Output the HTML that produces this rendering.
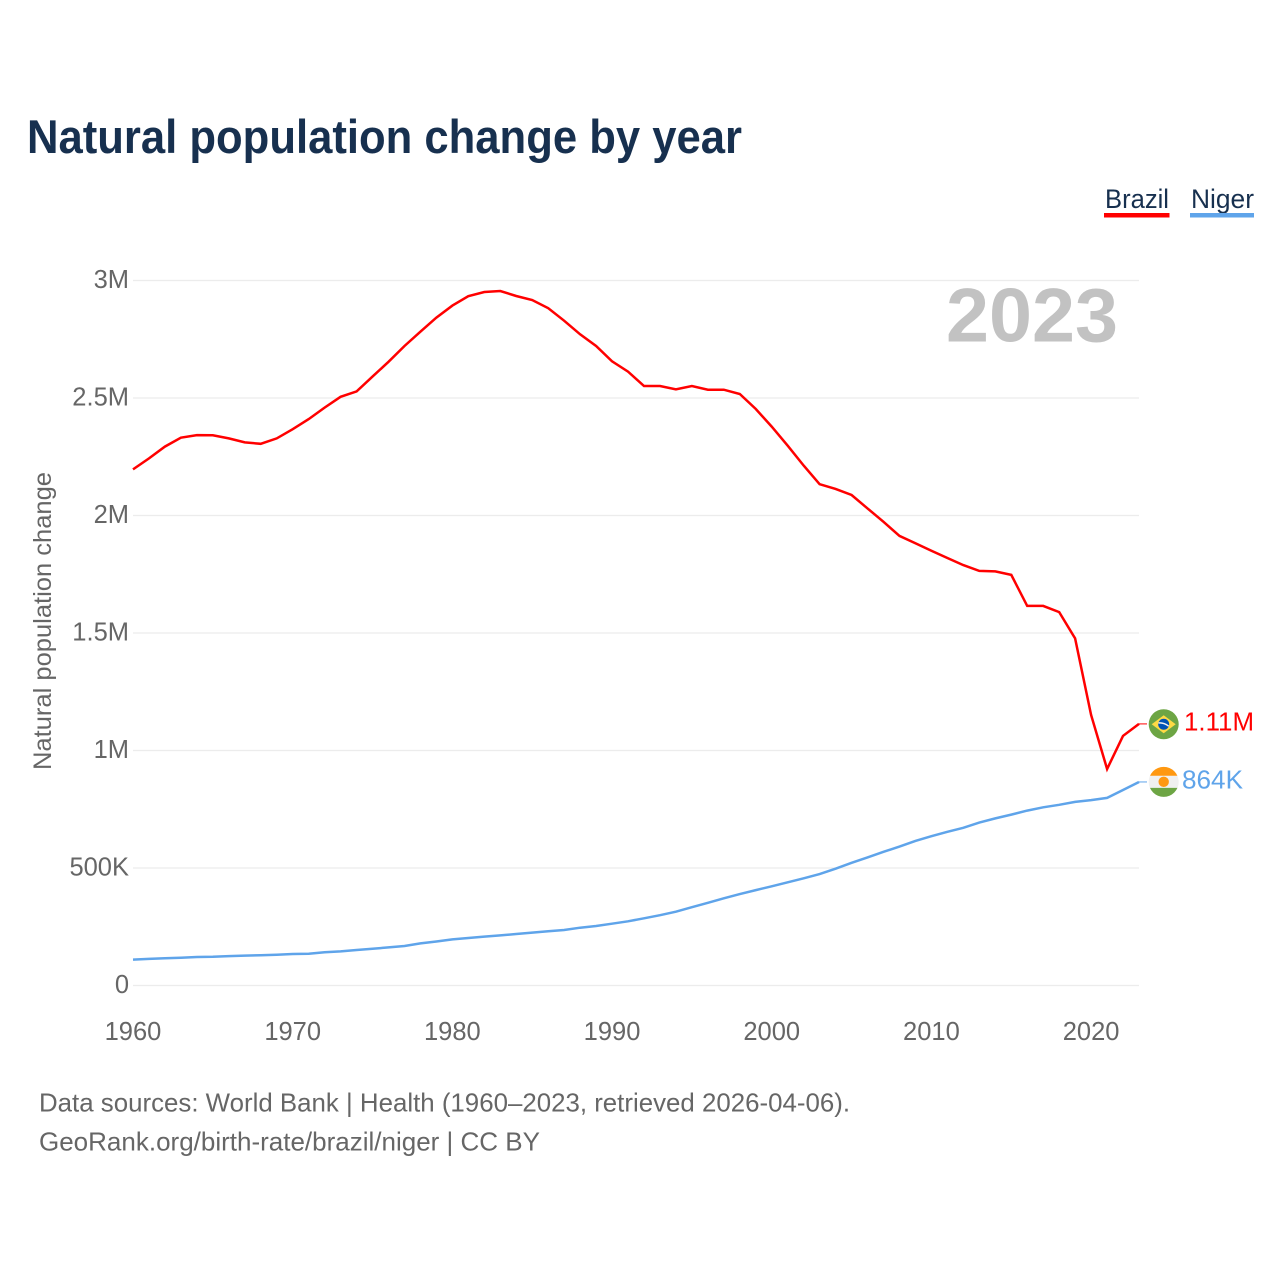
<!DOCTYPE html>
<html lang="en">
<head>
<meta charset="utf-8">
<title>Natural population change by year</title>
<style>
html,body{margin:0;padding:0;background:#fff;}
svg{display:block;font-family:"Liberation Sans",sans-serif;}
</style>
</head>
<body>
<svg id="chart" xmlns="http://www.w3.org/2000/svg" width="1280" height="1280" viewBox="0 0 1280 1280">
  <defs>
    <clipPath id="flag-clip"><circle cx="0" cy="0" r="15"/></clipPath>
  </defs>
  <rect x="0" y="0" width="1280" height="1280" fill="#fff"/>
  <text x="27" y="153" font-size="47" font-weight="700" fill="#17304f" textLength="715" lengthAdjust="spacingAndGlyphs">Natural population change by year</text>

  <g>
    <g>
      <text x="1105" y="208" font-size="26.5" fill="#17304f" textLength="64" lengthAdjust="spacingAndGlyphs">Brazil</text>
      <rect x="1104" y="213" width="65.5" height="4.5" fill="#ff0000"/>
    </g>
    <g>
      <text x="1191" y="208" font-size="26.5" fill="#17304f" textLength="63" lengthAdjust="spacingAndGlyphs">Niger</text>
      <rect x="1190" y="213" width="64" height="4.5" fill="#5fa4ea"/>
    </g>
  </g>

  <g id="grid"></g>
  <g id="y-ticks"></g>
  <g id="x-ticks"></g>

  <text transform="translate(51,770) rotate(-90)" font-size="25" fill="#666666" textLength="298" lengthAdjust="spacingAndGlyphs">Natural population change</text>
  <text x="946" y="341.5" font-size="76" font-weight="700" fill="#c2c2c2" textLength="172" lengthAdjust="spacingAndGlyphs">2023</text>

  <g id="series"></g>

  <g id="flag-brazil">
    <g clip-path="url(#flag-clip)">
      <rect x="-16" y="-16" width="32" height="32" fill="#6da544"/>
      <polygon points="0,-9 12,0 0,9 -12,0" fill="#ffda44"/>
      <circle cx="0" cy="0" r="5.5" fill="#0052b4"/>
      <path d="M-5.2,-1.2 Q0,-1.8 5,2" stroke="#f0f0f0" stroke-width="1.5" fill="none"/>
    </g>
  </g>
  <g id="flag-niger">
    <g clip-path="url(#flag-clip)">
      <rect x="-16" y="-16" width="32" height="10" fill="#ff9811"/>
      <rect x="-16" y="-6" width="32" height="12" fill="#f0f0f0"/>
      <rect x="-16" y="6" width="32" height="10" fill="#6da544"/>
      <circle cx="0" cy="0" r="5.2" fill="#ff9811"/>
    </g>
  </g>

  <text x="39" y="1111.5" font-size="26" fill="#666666" textLength="811" lengthAdjust="spacingAndGlyphs">Data sources: World Bank | Health (1960–2023, retrieved 2026-04-06).</text>
  <text x="39" y="1150.5" font-size="26" fill="#666666" textLength="501" lengthAdjust="spacingAndGlyphs">GeoRank.org/birth-rate/brazil/niger | CC BY</text>
</svg>
<script>
const years = [1960,1961,1962,1963,1964,1965,1966,1967,1968,1969,1970,1971,1972,1973,1974,1975,1976,1977,1978,1979,1980,1981,1982,1983,1984,1985,1986,1987,1988,1989,1990,1991,1992,1993,1994,1995,1996,1997,1998,1999,2000,2001,2002,2003,2004,2005,2006,2007,2008,2009,2010,2011,2012,2013,2014,2015,2016,2017,2018,2019,2020,2021,2022,2023];
const brazilValues = [2194,2241,2291,2329,2340,2339,2326,2309,2303,2326,2365,2408,2457,2503,2526,2589,2652,2719,2780,2840,2891,2931,2949,2953,2932,2915,2880,2827,2769,2719,2654,2610,2549,2549,2535,2549,2533,2533,2515,2451,2376,2295,2210,2131,2111,2085,2028,1971,1911,1880,1848,1817,1787,1762,1760,1745,1613,1613,1587,1475,1149,919,1060,1111];
const nigerValues = [108,111,114,116,119,120,123,125,127,129,132,133,139,143,149,154,160,166,177,185,194,200,206,211,217,223,229,234,244,251,261,271,284,297,312,331,350,369,387,404,420,437,454,472,495,520,543,567,589,613,633,652,669,691,709,725,742,756,767,779,787,796,830,864];
const yTickValues = [0,500,1000,1500,2000,2500,3000];
const yTickLabels = ['0','500K','1M','1.5M','2M','2.5M','3M'];
const xTickValues = [1960,1970,1980,1990,2000,2010,2020];
const xTickLabels = ['1960','1970','1980','1990','2000','2010','2020'];

const NS = 'http://www.w3.org/2000/svg';
const xLeft = 133, xRight = 1139, yZero = 985, yTop = 280;
function xScale(year){ return xLeft + (year - 1960) * (xRight - xLeft) / (2023 - 1960); }
function yScale(value){ return yZero - value * (yZero - yTop) / 3000; }
function formatValue(value){ return value >= 1000 ? (value / 1000).toFixed(2) + 'M' : Math.round(value) + 'K'; }

const grid = document.getElementById('grid');
const yTicks = document.getElementById('y-ticks');
const xTicks = document.getElementById('x-ticks');
const seriesGroup = document.getElementById('series');
const svg = document.getElementById('chart');

yTickValues.forEach(function(value, i){
  const line = document.createElementNS(NS, 'line');
  
  
  line.setAttribute('x1', xLeft);
  line.setAttribute('x2', xRight);
  line.setAttribute('y1', yScale(value) + 0.5);
  line.setAttribute('y2', yScale(value) + 0.5);
  line.setAttribute('stroke', '#ececec');
  line.setAttribute('stroke-width', '1.2');
  grid.appendChild(line);

  const label = document.createElementNS(NS, 'text');
  
  
  label.setAttribute('x', 129);
  label.setAttribute('y', yScale(value) + 8);
  label.setAttribute('text-anchor', 'end');
  label.setAttribute('font-size', '25.5');
  label.setAttribute('fill', '#666666');
  label.textContent = yTickLabels[i];
  yTicks.appendChild(label);
});

xTickValues.forEach(function(year, i){
  const label = document.createElementNS(NS, 'text');
  
  
  label.setAttribute('x', xScale(year));
  label.setAttribute('y', 1040);
  label.setAttribute('text-anchor', 'middle');
  label.setAttribute('font-size', '25.5');
  label.setAttribute('fill', '#666666');
  label.textContent = xTickLabels[i];
  xTicks.appendChild(label);
});

function pointsFor(values){
  return values.map(function(v, i){ return xScale(years[i]).toFixed(1) + ',' + yScale(v).toFixed(1); }).join(' ');
}

const brazilLine = document.createElementNS(NS, 'polyline');


brazilLine.setAttribute('points', pointsFor(brazilValues));
brazilLine.setAttribute('fill', 'none');
brazilLine.setAttribute('stroke', '#ff0000');
brazilLine.setAttribute('stroke-width', '2.5');
brazilLine.setAttribute('stroke-linejoin', 'miter');
seriesGroup.appendChild(brazilLine);

const nigerLine = document.createElementNS(NS, 'polyline');


nigerLine.setAttribute('points', pointsFor(nigerValues));
nigerLine.setAttribute('fill', 'none');
nigerLine.setAttribute('stroke', '#5fa4ea');
nigerLine.setAttribute('stroke-width', '2.5');
seriesGroup.appendChild(nigerLine);

const brazilEnd = yScale(brazilValues[brazilValues.length - 1]);
const nigerEnd = yScale(nigerValues[nigerValues.length - 1]);

const brazilConnector = document.createElementNS(NS, 'line');


brazilConnector.setAttribute('x1', xRight);
brazilConnector.setAttribute('x2', 1147);
brazilConnector.setAttribute('y1', brazilEnd);
brazilConnector.setAttribute('y2', brazilEnd);
brazilConnector.setAttribute('stroke', '#ff0000');
brazilConnector.setAttribute('stroke-width', '1');
seriesGroup.appendChild(brazilConnector);

const nigerConnector = document.createElementNS(NS, 'line');


nigerConnector.setAttribute('x1', xRight);
nigerConnector.setAttribute('x2', 1147);
nigerConnector.setAttribute('y1', nigerEnd);
nigerConnector.setAttribute('y2', nigerEnd);
nigerConnector.setAttribute('stroke', '#5fa4ea');
nigerConnector.setAttribute('stroke-width', '1');
seriesGroup.appendChild(nigerConnector);

document.getElementById('flag-brazil').setAttribute('transform', 'translate(1163.7,' + (brazilEnd + 0.3) + ')');
document.getElementById('flag-niger').setAttribute('transform', 'translate(1163.7,' + (nigerEnd - 0.1) + ')');

const brazilLabel = document.createElementNS(NS, 'text');


brazilLabel.setAttribute('x', 1184);
brazilLabel.setAttribute('y', brazilEnd + 6.5);
brazilLabel.setAttribute('font-size', '25.5');
brazilLabel.setAttribute('fill', '#ff0000');
brazilLabel.setAttribute('textLength', '70');
brazilLabel.setAttribute('lengthAdjust', 'spacingAndGlyphs');
brazilLabel.textContent = formatValue(brazilValues[brazilValues.length - 1]);
svg.appendChild(brazilLabel);

const nigerLabel = document.createElementNS(NS, 'text');


nigerLabel.setAttribute('x', 1182);
nigerLabel.setAttribute('y', nigerEnd + 6.5);
nigerLabel.setAttribute('font-size', '25.5');
nigerLabel.setAttribute('fill', '#5fa4ea');
nigerLabel.setAttribute('textLength', '61');
nigerLabel.setAttribute('lengthAdjust', 'spacingAndGlyphs');
nigerLabel.textContent = formatValue(nigerValues[nigerValues.length - 1]);
svg.appendChild(nigerLabel);
</script>
</body>
</html>
